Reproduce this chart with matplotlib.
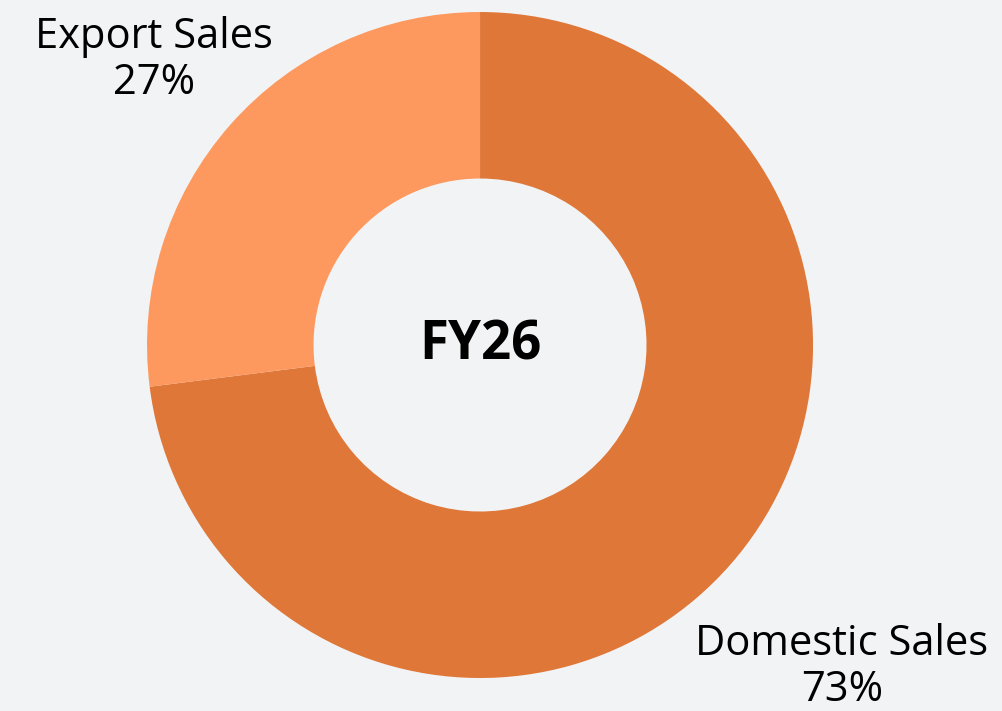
import matplotlib.pyplot as plt

# Data
labels = ['Domestic Sales', 'Export Sales']
shares = [73, 27]
colors = ['#DF7738', '#FD985E']
center_title = 'FY26'

plt.rcParams['font.family'] = ['Open Sans', 'DejaVu Sans']

fig = plt.figure(figsize=(10.03, 7.11), dpi=100)
fig.patch.set_facecolor('#F2F3F4')

# axes sized so the donut fills the left/centre of the canvas
ax = fig.add_axes([0.1466, 0.0464, 0.664, 0.9367])
ax.set_facecolor('#F2F3F4')

wedges, _ = ax.pie(shares, colors=colors, startangle=90, counterclock=False,
                   radius=1.0, wedgeprops=dict(width=0.5, linewidth=0))
ax.set_xlim(-1, 1)
ax.set_ylim(-1, 1)
ax.set_aspect('equal')
ax.axis('off')

ax.text(0, 0, center_title, ha='center', va='center', fontsize=38,
        fontweight='bold', color='black')

# outside labels
label_pos = {'Domestic Sales': (1.087, -0.967), 'Export Sales': (-0.979, 0.856)}
for lab, val in zip(labels, shares):
    x, y = label_pos[lab]
    ax.text(x, y, f'{lab}\n{val}%', ha='center', va='center', fontsize=30,
            color='black', linespacing=1.15, clip_on=False)

fig.savefig('out.png', dpi=100, facecolor=fig.get_facecolor())
